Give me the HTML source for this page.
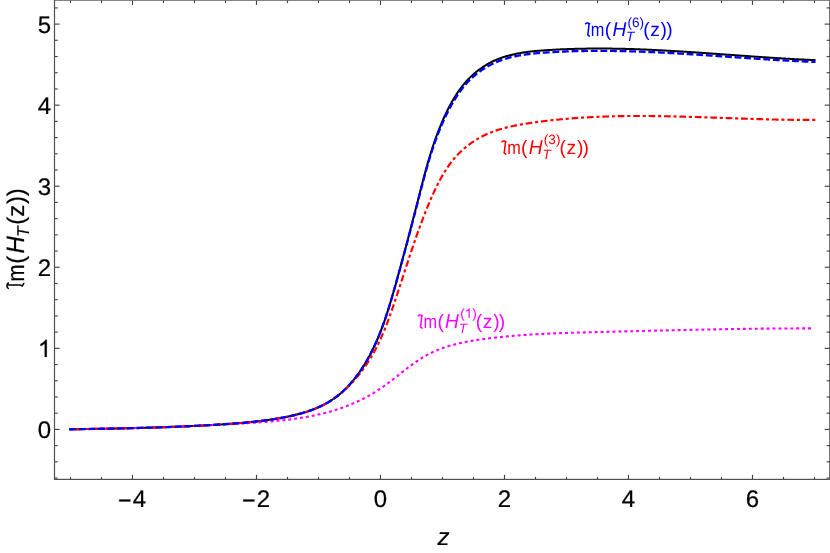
<!DOCTYPE html>
<html><head><meta charset="utf-8"><title>plot</title>
<style>
html,body{margin:0;padding:0;background:#fff;}
body{width:830px;height:553px;overflow:hidden;font-family:"Liberation Sans",sans-serif;}
svg{display:block;will-change:transform;text-rendering:geometricPrecision;}
text{font-family:"Liberation Sans",sans-serif;}
</style></head><body>
<svg width="830" height="553" viewBox="0 0 830 553">
<rect x="0" y="0" width="830" height="553" fill="#ffffff"/>
<g fill="none" stroke-linejoin="round">
<path d="M69.30,429.25 L70.50,429.25 L71.58,429.23 L72.66,429.22 L73.74,429.21 L74.82,429.19 L75.90,429.17 L76.98,429.16 L78.06,429.14 L79.14,429.13 L80.22,429.11 L81.30,429.10 L82.38,429.08 L83.46,429.07 L84.54,429.05 L85.62,429.03 L86.70,429.02 L87.78,429.00 L88.86,428.98 L89.94,428.97 L91.02,428.95 L92.10,428.93 L93.18,428.92 L94.26,428.90 L95.34,428.88 L96.42,428.86 L97.50,428.84 L98.58,428.83 L99.66,428.81 L100.75,428.79 L101.83,428.77 L102.91,428.75 L103.99,428.73 L105.07,428.71 L106.15,428.69 L107.23,428.67 L108.31,428.65 L109.39,428.63 L110.47,428.61 L111.55,428.59 L112.64,428.57 L113.72,428.55 L114.80,428.53 L115.88,428.51 L116.96,428.48 L118.04,428.46 L119.12,428.44 L120.20,428.42 L121.28,428.39 L122.36,428.37 L123.45,428.35 L124.53,428.32 L125.61,428.30 L126.69,428.27 L127.77,428.25 L128.85,428.22 L129.93,428.20 L131.01,428.17 L132.09,428.14 L133.17,428.12 L134.26,428.09 L135.34,428.06 L136.42,428.04 L137.50,428.01 L138.58,427.98 L139.66,427.95 L140.74,427.92 L141.82,427.89 L142.90,427.86 L143.98,427.83 L145.06,427.80 L146.14,427.77 L147.23,427.74 L148.31,427.71 L149.39,427.68 L150.47,427.64 L151.55,427.61 L152.63,427.58 L153.71,427.55 L154.79,427.51 L155.87,427.48 L156.95,427.44 L158.03,427.41 L159.11,427.37 L160.19,427.33 L161.27,427.30 L162.35,427.26 L163.43,427.22 L164.51,427.18 L165.59,427.15 L166.67,427.11 L167.75,427.07 L168.83,427.03 L169.91,426.99 L170.99,426.95 L172.07,426.91 L173.15,426.86 L174.23,426.82 L175.31,426.78 L176.39,426.73 L177.47,426.69 L178.55,426.65 L179.63,426.60 L180.71,426.56 L181.79,426.51 L182.86,426.46 L183.94,426.42 L185.02,426.37 L186.10,426.32 L187.18,426.27 L188.26,426.22 L189.34,426.17 L190.42,426.12 L191.49,426.07 L192.57,426.02 L193.65,425.97 L194.73,425.92 L195.81,425.86 L196.89,425.81 L197.96,425.75 L199.04,425.70 L200.12,425.64 L201.20,425.59 L202.27,425.53 L203.35,425.47 L204.43,425.41 L205.51,425.36 L206.58,425.30 L207.66,425.24 L208.74,425.18 L209.81,425.11 L210.89,425.05 L211.97,424.99 L213.04,424.93 L214.12,424.86 L215.20,424.80 L216.27,424.73 L217.35,424.67 L218.42,424.60 L219.50,424.53 L220.58,424.47 L221.65,424.40 L222.73,424.33 L223.80,424.26 L224.88,424.19 L225.95,424.12 L227.03,424.04 L228.10,423.97 L229.18,423.89 L230.25,423.82 L231.33,423.74 L232.40,423.66 L233.48,423.58 L234.55,423.50 L235.63,423.42 L236.70,423.34 L237.77,423.25 L238.85,423.17 L239.92,423.08 L241.00,422.99 L242.07,422.90 L243.15,422.80 L244.22,422.71 L245.30,422.61 L246.37,422.51 L247.44,422.41 L248.52,422.31 L249.59,422.20 L250.67,422.10 L251.74,421.99 L252.82,421.88 L253.89,421.76 L254.97,421.64 L256.04,421.53 L257.12,421.40 L258.19,421.28 L259.27,421.15 L260.34,421.02 L261.42,420.89 L262.49,420.76 L263.57,420.62 L264.65,420.48 L265.72,420.33 L266.80,420.19 L267.88,420.03 L268.95,419.88 L270.03,419.73 L271.11,419.57 L272.18,419.40 L273.26,419.24 L274.34,419.07 L275.42,418.89 L276.49,418.71 L277.57,418.53 L278.65,418.35 L279.73,418.16 L280.81,417.97 L281.89,417.77 L282.97,417.57 L284.04,417.37 L285.12,417.16 L286.20,416.95 L287.28,416.73 L288.35,416.51 L289.43,416.28 L290.50,416.05 L291.58,415.81 L292.65,415.57 L293.72,415.32 L294.79,415.06 L295.85,414.80 L296.92,414.53 L297.98,414.26 L299.04,413.98 L300.09,413.70 L301.15,413.40 L302.20,413.10 L303.25,412.80 L304.29,412.48 L305.33,412.16 L306.37,411.83 L307.40,411.50 L308.43,411.16 L309.46,410.80 L310.48,410.44 L311.50,410.08 L312.51,409.70 L313.52,409.32 L314.52,408.92 L315.52,408.52 L316.51,408.11 L317.50,407.69 L318.48,407.26 L319.46,406.82 L320.43,406.38 L321.39,405.92 L322.35,405.45 L323.30,404.97 L324.25,404.49 L325.19,403.99 L326.12,403.48 L327.05,402.96 L327.96,402.43 L328.88,401.89 L329.78,401.34 L330.67,400.78 L331.56,400.20 L332.44,399.62 L333.32,399.02 L334.18,398.41 L335.04,397.79 L335.89,397.17 L336.73,396.53 L337.57,395.88 L338.39,395.22 L339.21,394.55 L340.03,393.87 L340.83,393.18 L341.63,392.49 L342.42,391.78 L343.20,391.06 L343.98,390.34 L344.75,389.60 L345.51,388.86 L346.27,388.11 L347.02,387.35 L347.76,386.58 L348.49,385.81 L349.22,385.02 L349.94,384.23 L350.65,383.43 L351.36,382.63 L352.06,381.81 L352.75,380.99 L353.44,380.16 L354.12,379.33 L354.79,378.48 L355.46,377.64 L356.12,376.78 L356.77,375.92 L357.42,375.05 L358.06,374.18 L358.70,373.30 L359.32,372.41 L359.94,371.52 L360.56,370.63 L361.17,369.72 L361.77,368.82 L362.37,367.91 L362.96,366.99 L363.54,366.07 L364.12,365.14 L364.69,364.21 L365.25,363.28 L365.81,362.34 L366.37,361.40 L366.92,360.45 L367.46,359.51 L367.99,358.55 L368.52,357.60 L369.05,356.64 L369.56,355.68 L370.08,354.71 L370.58,353.74 L371.09,352.77 L371.58,351.80 L372.07,350.83 L372.56,349.85 L373.03,348.87 L373.51,347.89 L373.98,346.91 L374.44,345.92 L374.90,344.94 L375.35,343.95 L375.79,342.96 L376.24,341.97 L376.67,340.98 L377.11,339.98 L377.53,338.99 L377.96,337.99 L378.38,336.99 L378.79,335.99 L379.20,334.99 L379.60,333.99 L380.00,332.98 L380.40,331.98 L380.79,330.97 L381.18,329.96 L381.57,328.95 L381.95,327.94 L382.33,326.93 L382.70,325.92 L383.07,324.90 L383.43,323.89 L383.80,322.87 L384.16,321.85 L384.51,320.83 L384.87,319.81 L385.22,318.79 L385.56,317.77 L385.91,316.75 L386.25,315.72 L386.59,314.70 L386.92,313.67 L387.26,312.65 L387.59,311.62 L387.91,310.59 L388.24,309.56 L388.56,308.54 L388.89,307.51 L389.20,306.47 L389.52,305.44 L389.84,304.41 L390.15,303.38 L390.46,302.35 L390.77,301.31 L391.08,300.28 L391.39,299.25 L391.69,298.21 L392.00,297.18 L392.30,296.14 L392.60,295.10 L392.90,294.07 L393.20,293.03 L393.50,291.99 L393.80,290.96 L394.09,289.92 L394.39,288.88 L394.68,287.85 L394.98,286.81 L395.27,285.76 L395.57,284.71 L395.86,283.66 L396.15,282.61 L396.45,281.56 L396.74,280.51 L397.03,279.46 L397.32,278.41 L397.61,277.36 L397.90,276.30 L398.19,275.25 L398.48,274.20 L398.77,273.15 L399.06,272.10 L399.35,271.05 L399.64,270.00 L399.92,268.95 L400.21,267.89 L400.50,266.84 L400.78,265.79 L401.07,264.74 L401.35,263.69 L401.64,262.64 L401.92,261.58 L402.21,260.53 L402.49,259.48 L402.77,258.43 L403.06,257.37 L403.34,256.32 L403.62,255.27 L403.90,254.21 L404.19,253.16 L404.47,252.11 L404.75,251.06 L405.03,250.00 L405.31,248.95 L405.59,247.90 L405.87,246.84 L406.15,245.79 L406.43,244.73 L406.71,243.68 L406.98,242.63 L407.26,241.57 L407.54,240.52 L407.82,239.46 L408.10,238.41 L408.37,237.35 L408.65,236.30 L408.93,235.24 L409.20,234.19 L409.48,233.13 L409.75,232.08 L410.03,231.02 L410.30,229.97 L410.58,228.91 L410.85,227.85 L411.13,226.80 L411.40,225.74 L411.68,224.69 L411.95,223.63 L412.22,222.57 L412.50,221.52 L412.77,220.46 L413.04,219.40 L413.32,218.35 L413.59,217.29 L413.86,216.23 L414.13,215.17 L414.41,214.12 L414.68,213.06 L414.95,212.00 L415.22,210.94 L415.49,209.88 L415.76,208.83 L416.03,207.77 L416.31,206.71 L416.58,205.65 L416.85,204.59 L417.12,203.53 L417.39,202.47 L417.66,201.41 L417.93,200.36 L418.20,199.30 L418.47,198.24 L418.74,197.18 L419.01,196.12 L419.28,195.06 L419.55,194.00 L419.82,192.94 L420.09,191.88 L420.36,190.81 L420.63,189.75 L420.90,188.69 L421.17,187.63 L421.45,186.57 L421.72,185.51 L421.99,184.46 L422.27,183.40 L422.54,182.34 L422.82,181.28 L423.10,180.22 L423.38,179.16 L423.66,178.10 L423.94,177.04 L424.22,175.99 L424.50,174.93 L424.79,173.87 L425.07,172.81 L425.36,171.76 L425.65,170.70 L425.94,169.65 L426.23,168.59 L426.52,167.54 L426.82,166.48 L427.12,165.43 L427.41,164.38 L427.72,163.33 L428.02,162.27 L428.32,161.22 L428.63,160.17 L428.94,159.12 L429.25,158.07 L429.57,157.03 L429.88,155.98 L430.20,154.93 L430.52,153.89 L430.85,152.84 L431.17,151.80 L431.50,150.76 L431.83,149.71 L432.17,148.67 L432.51,147.63 L432.85,146.59 L433.19,145.55 L433.54,144.52 L433.89,143.48 L434.24,142.44 L434.60,141.41 L434.96,140.38 L435.32,139.34 L435.69,138.31 L436.06,137.28 L436.43,136.25 L436.81,135.23 L437.19,134.20 L437.57,133.18 L437.96,132.15 L438.35,131.13 L438.75,130.11 L439.15,129.09 L439.55,128.07 L439.96,127.05 L440.37,126.04 L440.79,125.02 L441.21,124.01 L441.64,123.00 L442.07,121.99 L442.50,120.98 L442.94,119.98 L443.39,118.97 L443.83,117.97 L444.29,116.97 L444.75,115.97 L445.21,114.97 L445.68,113.97 L446.15,112.98 L446.63,111.98 L447.11,110.99 L447.60,110.00 L448.09,109.01 L448.59,108.03 L449.10,107.04 L449.61,106.06 L450.12,105.08 L450.64,104.13 L451.17,103.17 L451.70,102.22 L452.24,101.28 L452.79,100.33 L453.34,99.39 L453.90,98.46 L454.46,97.53 L455.04,96.60 L455.61,95.68 L456.20,94.76 L456.79,93.85 L457.39,92.94 L458.00,92.04 L458.62,91.15 L459.24,90.26 L459.87,89.38 L460.51,88.50 L461.16,87.63 L461.82,86.77 L462.48,85.92 L463.16,85.07 L463.84,84.24 L464.53,83.41 L465.23,82.58 L465.94,81.77 L466.66,80.97 L467.39,80.17 L468.13,79.39 L468.87,78.61 L469.63,77.85 L470.40,77.09 L471.17,76.35 L471.96,75.61 L472.75,74.88 L473.55,74.17 L474.36,73.46 L475.18,72.77 L476.01,72.08 L476.84,71.41 L477.69,70.74 L478.54,70.09 L479.40,69.45 L480.26,68.82 L481.13,68.20 L482.02,67.59 L482.90,67.00 L483.80,66.41 L484.70,65.84 L485.61,65.28 L486.52,64.73 L487.44,64.19 L488.37,63.67 L489.31,63.15 L490.25,62.65 L491.19,62.16 L492.14,61.69 L493.10,61.22 L494.06,60.77 L495.03,60.34 L496.00,59.91 L496.98,59.50 L497.96,59.10 L498.95,58.71 L499.94,58.33 L500.94,57.97 L501.94,57.61 L502.94,57.27 L503.95,56.94 L504.97,56.62 L505.99,56.31 L507.01,56.01 L508.04,55.72 L509.07,55.44 L510.10,55.17 L511.14,54.91 L512.18,54.66 L513.22,54.41 L514.27,54.18 L515.32,53.95 L516.37,53.74 L517.43,53.53 L518.49,53.33 L519.55,53.13 L520.61,52.95 L521.68,52.77 L522.75,52.60 L523.82,52.43 L524.89,52.27 L525.97,52.12 L527.05,51.98 L528.12,51.84 L529.21,51.70 L530.29,51.57 L531.37,51.45 L532.46,51.33 L533.54,51.22 L534.63,51.11 L535.72,51.00 L536.81,50.90 L537.90,50.81 L538.99,50.72 L540.09,50.63 L541.18,50.54 L542.27,50.46 L543.36,50.38 L544.46,50.30 L545.55,50.23 L546.65,50.16 L547.74,50.08 L548.83,50.02 L549.93,49.95 L551.02,49.88 L552.11,49.82 L553.20,49.76 L554.30,49.70 L555.39,49.64 L556.48,49.58 L557.57,49.53 L558.66,49.48 L559.75,49.42 L560.84,49.37 L561.93,49.32 L563.02,49.28 L564.11,49.23 L565.20,49.19 L566.29,49.14 L567.38,49.10 L568.47,49.06 L569.56,49.03 L570.65,48.99 L571.73,48.95 L572.82,48.92 L573.91,48.89 L575.00,48.86 L576.08,48.83 L577.17,48.80 L578.26,48.78 L579.34,48.75 L580.43,48.73 L581.52,48.71 L582.60,48.68 L583.69,48.67 L584.77,48.65 L585.86,48.63 L586.94,48.62 L588.03,48.60 L589.11,48.59 L590.20,48.58 L591.28,48.57 L592.37,48.56 L593.45,48.55 L594.53,48.55 L595.62,48.54 L596.70,48.54 L597.78,48.54 L598.87,48.54 L599.95,48.54 L601.03,48.54 L602.11,48.54 L603.20,48.54 L604.28,48.55 L605.36,48.56 L606.44,48.56 L607.52,48.57 L608.60,48.58 L609.69,48.59 L610.77,48.60 L611.85,48.62 L612.93,48.63 L614.01,48.65 L615.09,48.66 L616.17,48.68 L617.25,48.70 L618.33,48.72 L619.41,48.74 L620.49,48.76 L621.57,48.78 L622.65,48.81 L623.73,48.83 L624.81,48.86 L625.88,48.89 L626.96,48.91 L628.04,48.94 L629.12,48.97 L630.20,49.01 L631.28,49.04 L632.36,49.08 L633.43,49.11 L634.51,49.15 L635.59,49.19 L636.67,49.23 L637.75,49.27 L638.82,49.31 L639.90,49.35 L640.98,49.39 L642.06,49.44 L643.13,49.48 L644.21,49.53 L645.29,49.57 L646.36,49.62 L647.44,49.67 L648.52,49.71 L649.59,49.76 L650.67,49.81 L651.75,49.86 L652.82,49.91 L653.90,49.97 L654.98,50.02 L656.05,50.07 L657.13,50.13 L658.20,50.18 L659.28,50.24 L660.35,50.29 L661.43,50.35 L662.51,50.41 L663.58,50.46 L664.66,50.52 L665.73,50.58 L666.81,50.64 L667.88,50.70 L668.96,50.76 L670.03,50.82 L671.11,50.89 L672.19,50.95 L673.26,51.01 L674.34,51.07 L675.41,51.14 L676.49,51.20 L677.56,51.27 L678.64,51.33 L679.71,51.40 L680.79,51.47 L681.86,51.53 L682.94,51.60 L684.01,51.67 L685.08,51.74 L686.16,51.81 L687.23,51.88 L688.31,51.95 L689.38,52.02 L690.46,52.09 L691.53,52.16 L692.61,52.23 L693.68,52.30 L694.76,52.37 L695.83,52.44 L696.91,52.52 L697.98,52.59 L699.06,52.66 L700.13,52.74 L701.21,52.81 L702.28,52.88 L703.36,52.96 L704.43,53.03 L705.50,53.11 L706.58,53.18 L707.65,53.26 L708.73,53.33 L709.80,53.41 L710.88,53.48 L711.95,53.56 L713.03,53.64 L714.10,53.71 L715.18,53.79 L716.25,53.87 L717.33,53.94 L718.40,54.02 L719.48,54.10 L720.55,54.17 L721.63,54.25 L722.71,54.33 L723.78,54.40 L724.86,54.48 L725.93,54.56 L727.01,54.64 L728.08,54.71 L729.16,54.79 L730.23,54.87 L731.31,54.95 L732.39,55.02 L733.46,55.10 L734.54,55.18 L735.61,55.26 L736.69,55.33 L737.77,55.41 L738.84,55.49 L739.92,55.56 L741.00,55.64 L742.07,55.72 L743.15,55.79 L744.23,55.87 L745.30,55.95 L746.38,56.02 L747.46,56.10 L748.53,56.18 L749.61,56.25 L750.69,56.33 L751.77,56.40 L752.84,56.48 L753.92,56.55 L755.00,56.63 L756.08,56.70 L757.15,56.78 L758.23,56.85 L759.31,56.93 L760.39,57.00 L761.47,57.07 L762.55,57.15 L763.62,57.22 L764.70,57.29 L765.78,57.36 L766.86,57.43 L767.94,57.51 L769.02,57.58 L770.10,57.65 L771.18,57.72 L772.26,57.79 L773.34,57.86 L774.42,57.93 L775.50,57.99 L776.58,58.06 L777.66,58.13 L778.74,58.20 L779.82,58.26 L780.90,58.33 L781.98,58.40 L783.06,58.46 L784.15,58.53 L785.23,58.59 L786.31,58.65 L787.39,58.72 L788.47,58.78 L789.56,58.84 L790.64,58.91 L791.72,58.97 L792.80,59.03 L793.89,59.09 L794.97,59.15 L796.05,59.20 L797.14,59.26 L798.22,59.32 L799.30,59.38 L800.39,59.43 L801.47,59.49 L802.56,59.54 L803.64,59.60 L804.73,59.65 L805.81,59.70 L806.90,59.76 L807.98,59.81 L809.07,59.86 L810.15,59.91 L811.24,59.96 L812.33,60.01 L813.41,60.05 L814.50,60.10 L815.50,60.10" stroke="#000000" stroke-width="2.0"/>
<path d="M69.30,429.25 L70.50,429.25 L71.36,429.24 L72.21,429.23 L73.07,429.21 L73.92,429.20 L74.78,429.19 L75.64,429.18 L76.49,429.17 L77.35,429.15 L78.20,429.14 L79.06,429.13 L79.91,429.12 L80.76,429.11 L81.62,429.09 L82.47,429.08 L83.33,429.07 L84.18,429.05 L85.03,429.04 L85.89,429.03 L86.74,429.02 L87.59,429.00 L88.45,428.99 L89.30,428.98 L90.15,428.96 L91.01,428.95 L91.86,428.94 L92.71,428.92 L93.56,428.91 L94.41,428.90 L95.27,428.88 L96.12,428.87 L96.97,428.85 L97.82,428.84 L98.67,428.83 L99.52,428.81 L100.37,428.80 L101.22,428.78 L102.07,428.77 L102.93,428.75 L103.78,428.74 L104.63,428.72 L105.48,428.71 L106.33,428.69 L107.18,428.67 L108.03,428.66 L108.88,428.64 L109.73,428.63 L110.58,428.61 L111.42,428.59 L112.27,428.58 L113.12,428.56 L113.97,428.54 L114.82,428.53 L115.67,428.51 L116.52,428.49 L117.37,428.48 L118.22,428.46 L119.06,428.44 L119.91,428.42 L120.76,428.40 L121.61,428.39 L122.46,428.37 L123.31,428.35 L124.15,428.33 L125.00,428.31 L125.85,428.29 L126.70,428.27 L127.55,428.25 L128.39,428.23 L129.24,428.21 L130.09,428.19 L130.94,428.17 L131.78,428.15 L132.63,428.13 L133.48,428.11 L134.32,428.09 L135.17,428.07 L136.02,428.05 L136.87,428.03 L137.71,428.00 L138.56,427.98 L139.41,427.96 L140.25,427.94 L141.10,427.91 L141.95,427.89 L142.79,427.87 L143.64,427.84 L144.49,427.82 L145.33,427.80 L146.18,427.77 L147.03,427.75 L147.87,427.72 L148.72,427.70 L149.57,427.67 L150.41,427.65 L151.26,427.62 L152.10,427.59 L152.95,427.57 L153.80,427.54 L154.64,427.52 L155.49,427.49 L156.34,427.46 L157.18,427.43 L158.03,427.41 L158.87,427.38 L159.72,427.35 L160.57,427.32 L161.41,427.29 L162.26,427.26 L163.11,427.23 L163.95,427.20 L164.80,427.17 L165.64,427.14 L166.49,427.11 L167.34,427.08 L168.18,427.05 L169.03,427.02 L169.88,426.99 L170.72,426.96 L171.57,426.92 L172.41,426.89 L173.26,426.86 L174.11,426.83 L174.95,426.79 L175.80,426.76 L176.65,426.72 L177.49,426.69 L178.34,426.65 L179.19,426.62 L180.03,426.58 L180.88,426.55 L181.73,426.51 L182.57,426.48 L183.42,426.44 L184.27,426.40 L185.11,426.36 L185.96,426.33 L186.81,426.29 L187.65,426.25 L188.50,426.21 L189.35,426.17 L190.19,426.13 L191.04,426.09 L191.89,426.05 L192.74,426.01 L193.58,425.97 L194.43,425.93 L195.28,425.89 L196.13,425.84 L196.97,425.80 L197.82,425.76 L198.67,425.72 L199.52,425.67 L200.37,425.63 L201.21,425.59 L202.06,425.54 L202.91,425.50 L203.76,425.46 L204.61,425.41 L205.46,425.37 L206.30,425.32 L207.15,425.28 L208.00,425.24 L208.85,425.19 L209.70,425.15 L210.55,425.10 L211.40,425.06 L212.25,425.01 L213.10,424.97 L213.95,424.93 L214.80,424.88 L215.64,424.84 L216.49,424.79 L217.34,424.75 L218.19,424.70 L219.04,424.66 L219.90,424.62 L220.75,424.57 L221.60,424.53 L222.45,424.49 L223.30,424.44 L224.15,424.40 L225.00,424.35 L225.85,424.31 L226.70,424.27 L227.55,424.22 L228.41,424.18 L229.26,424.14 L230.11,424.09 L230.96,424.05 L231.81,424.00 L232.67,423.96 L233.52,423.92 L234.37,423.87 L235.22,423.83 L236.08,423.78 L236.93,423.74 L237.78,423.69 L238.64,423.64 L239.49,423.59 L240.34,423.55 L241.20,423.50 L242.05,423.45 L242.91,423.40 L243.76,423.35 L244.61,423.30 L245.47,423.25 L246.32,423.20 L247.18,423.15 L248.03,423.10 L248.89,423.04 L249.74,422.99 L250.60,422.94 L251.45,422.89 L252.31,422.83 L253.16,422.78 L254.02,422.72 L254.87,422.67 L255.73,422.61 L256.58,422.55 L257.44,422.50 L258.29,422.44 L259.15,422.38 L260.00,422.32 L260.86,422.26 L261.71,422.20 L262.57,422.13 L263.42,422.07 L264.27,422.00 L265.13,421.94 L265.98,421.87 L266.84,421.80 L267.69,421.74 L268.54,421.67 L269.40,421.60 L270.25,421.52 L271.10,421.45 L271.95,421.38 L272.81,421.30 L273.66,421.22 L274.51,421.14 L275.36,421.07 L276.21,420.98 L277.07,420.90 L277.92,420.82 L278.77,420.73 L279.62,420.65 L280.47,420.56 L281.32,420.47 L282.17,420.38 L283.01,420.28 L283.86,420.19 L284.71,420.09 L285.56,420.00 L286.41,419.90 L287.25,419.80 L288.10,419.69 L288.95,419.59 L289.79,419.48 L290.64,419.37 L291.48,419.26 L292.33,419.15 L293.17,419.04 L294.01,418.92 L294.86,418.80 L295.70,418.68 L296.54,418.56 L297.38,418.44 L298.22,418.31 L299.06,418.18 L299.90,418.05 L300.74,417.92 L301.58,417.79 L302.42,417.65 L303.25,417.51 L304.09,417.37 L304.93,417.22 L305.76,417.08 L306.60,416.93 L307.43,416.78 L308.26,416.62 L309.10,416.47 L309.93,416.31 L310.76,416.15 L311.59,415.99 L312.42,415.82 L313.25,415.65 L314.08,415.48 L314.91,415.31 L315.73,415.13 L316.56,414.95 L317.38,414.77 L318.21,414.58 L319.03,414.40 L319.86,414.20 L320.68,414.01 L321.50,413.82 L322.32,413.62 L323.14,413.41 L323.96,413.21 L324.78,413.00 L325.59,412.79 L326.41,412.58 L327.22,412.36 L328.04,412.14 L328.85,411.91 L329.66,411.69 L330.47,411.46 L331.28,411.22 L332.09,410.99 L332.90,410.75 L333.71,410.50 L334.52,410.26 L335.32,410.01 L336.13,409.76 L336.93,409.50 L337.73,409.24 L338.53,408.98 L339.33,408.71 L340.13,408.44 L340.93,408.16 L341.73,407.89 L342.52,407.61 L343.32,407.32 L344.11,407.03 L344.90,406.74 L345.69,406.45 L346.48,406.15 L347.27,405.84 L348.06,405.54 L348.84,405.23 L349.62,404.91 L350.41,404.60 L351.19,404.28 L351.97,403.95 L352.75,403.62 L353.52,403.29 L354.30,402.95 L355.07,402.61 L355.84,402.27 L356.61,401.92 L357.38,401.57 L358.15,401.22 L358.91,400.86 L359.68,400.50 L360.44,400.13 L361.20,399.76 L361.96,399.38 L362.71,399.00 L363.47,398.62 L364.22,398.24 L364.97,397.85 L365.72,397.45 L366.47,397.05 L367.21,396.65 L367.96,396.24 L368.70,395.83 L369.44,395.42 L370.18,395.00 L370.91,394.58 L371.65,394.15 L372.38,393.72 L373.11,393.28 L373.83,392.84 L374.56,392.40 L375.28,391.95 L376.00,391.50 L376.72,391.04 L377.44,390.58 L378.15,390.12 L378.86,389.65 L379.57,389.17 L380.28,388.70 L380.98,388.21 L381.69,387.73 L382.39,387.24 L383.09,386.75 L383.78,386.25 L384.48,385.75 L385.17,385.25 L385.87,384.74 L386.56,384.24 L387.25,383.73 L387.93,383.21 L388.62,382.70 L389.31,382.18 L389.99,381.66 L390.67,381.14 L391.36,380.62 L392.04,380.09 L392.72,379.57 L393.40,379.04 L394.08,378.51 L394.75,377.98 L395.43,377.45 L396.11,376.92 L396.79,376.39 L397.46,375.86 L398.14,375.33 L398.82,374.80 L399.49,374.27 L400.17,373.74 L400.84,373.21 L401.52,372.68 L402.20,372.15 L402.87,371.62 L403.55,371.09 L404.23,370.57 L404.91,370.04 L405.59,369.52 L406.26,369.00 L406.94,368.48 L407.63,367.96 L408.31,367.45 L408.99,366.93 L409.67,366.42 L410.36,365.91 L411.05,365.41 L411.73,364.91 L412.42,364.41 L413.11,363.91 L413.80,363.42 L414.50,362.93 L415.19,362.44 L415.89,361.96 L416.59,361.48 L417.29,361.01 L417.99,360.54 L418.70,360.07 L419.40,359.61 L420.11,359.16 L420.82,358.71 L421.54,358.26 L422.25,357.82 L422.97,357.38 L423.69,356.95 L424.42,356.53 L425.14,356.11 L425.87,355.70 L426.60,355.29 L427.34,354.89 L428.08,354.50 L428.82,354.11 L429.56,353.73 L430.31,353.35 L431.06,352.98 L431.81,352.62 L432.57,352.26 L433.32,351.91 L434.08,351.57 L434.85,351.23 L435.61,350.89 L436.38,350.57 L437.15,350.25 L437.93,349.93 L438.70,349.62 L439.48,349.31 L440.27,349.01 L441.05,348.72 L441.83,348.43 L442.62,348.14 L443.41,347.86 L444.21,347.59 L445.00,347.32 L445.80,347.06 L446.60,346.80 L447.40,346.54 L448.20,346.29 L449.01,346.05 L449.81,345.81 L450.62,345.57 L451.43,345.34 L452.24,345.11 L453.06,344.89 L453.87,344.67 L454.69,344.45 L455.51,344.24 L456.33,344.03 L457.15,343.83 L457.98,343.63 L458.80,343.43 L459.63,343.24 L460.46,343.05 L461.29,342.87 L462.12,342.69 L462.95,342.51 L463.78,342.34 L464.62,342.16 L465.45,342.00 L466.29,341.83 L467.13,341.67 L467.96,341.51 L468.80,341.36 L469.64,341.20 L470.48,341.05 L471.33,340.91 L472.17,340.76 L473.01,340.62 L473.86,340.48 L474.70,340.34 L475.55,340.21 L476.39,340.08 L477.24,339.95 L478.09,339.82 L478.93,339.69 L479.78,339.57 L480.63,339.45 L481.48,339.33 L482.33,339.21 L483.18,339.10 L484.03,338.98 L484.88,338.87 L485.73,338.76 L486.58,338.65 L487.43,338.54 L488.28,338.44 L489.13,338.33 L489.98,338.23 L490.83,338.12 L491.68,338.02 L492.53,337.92 L493.38,337.82 L494.23,337.73 L495.08,337.63 L495.93,337.54 L496.77,337.44 L497.62,337.35 L498.47,337.26 L499.32,337.17 L500.17,337.08 L501.02,336.99 L501.87,336.90 L502.72,336.82 L503.57,336.73 L504.42,336.65 L505.27,336.57 L506.12,336.49 L506.97,336.41 L507.82,336.33 L508.67,336.25 L509.52,336.17 L510.36,336.10 L511.21,336.02 L512.06,335.95 L512.91,335.88 L513.76,335.80 L514.61,335.73 L515.46,335.66 L516.31,335.59 L517.16,335.53 L518.01,335.46 L518.86,335.39 L519.70,335.33 L520.55,335.27 L521.40,335.20 L522.25,335.14 L523.10,335.08 L523.95,335.02 L524.80,334.96 L525.65,334.90 L526.49,334.84 L527.34,334.79 L528.19,334.73 L529.04,334.68 L529.89,334.62 L530.74,334.57 L531.59,334.52 L532.44,334.46 L533.28,334.41 L534.13,334.36 L534.98,334.31 L535.83,334.26 L536.68,334.22 L537.53,334.17 L538.38,334.12 L539.22,334.08 L540.07,334.03 L540.92,333.99 L541.77,333.94 L542.62,333.90 L543.47,333.86 L544.32,333.82 L545.16,333.77 L546.01,333.73 L546.86,333.69 L547.71,333.66 L548.56,333.62 L549.41,333.58 L550.25,333.54 L551.10,333.50 L551.95,333.47 L552.80,333.43 L553.65,333.40 L554.50,333.36 L555.35,333.33 L556.19,333.29 L557.04,333.26 L557.89,333.23 L558.74,333.20 L559.59,333.16 L560.44,333.13 L561.28,333.10 L562.13,333.07 L562.98,333.04 L563.83,333.01 L564.68,332.98 L565.53,332.95 L566.38,332.93 L567.22,332.90 L568.07,332.87 L568.92,332.84 L569.77,332.82 L570.62,332.79 L571.47,332.76 L572.31,332.74 L573.16,332.71 L574.01,332.69 L574.86,332.66 L575.71,332.64 L576.56,332.61 L577.41,332.59 L578.25,332.56 L579.10,332.54 L579.95,332.52 L580.80,332.49 L581.65,332.47 L582.50,332.45 L583.35,332.43 L584.19,332.40 L585.04,332.38 L585.89,332.36 L586.74,332.34 L587.59,332.32 L588.44,332.29 L589.29,332.27 L590.13,332.25 L590.98,332.23 L591.83,332.21 L592.68,332.19 L593.53,332.17 L594.38,332.14 L595.23,332.12 L596.08,332.10 L596.93,332.08 L597.77,332.06 L598.62,332.04 L599.47,332.02 L600.32,332.00 L601.17,331.98 L602.02,331.96 L602.87,331.94 L603.72,331.91 L604.57,331.89 L605.42,331.87 L606.26,331.85 L607.11,331.83 L607.96,331.81 L608.81,331.79 L609.66,331.77 L610.51,331.75 L611.36,331.72 L612.21,331.70 L613.06,331.68 L613.91,331.66 L614.76,331.64 L615.61,331.62 L616.45,331.60 L617.30,331.58 L618.15,331.56 L619.00,331.53 L619.85,331.51 L620.70,331.49 L621.55,331.47 L622.40,331.45 L623.25,331.43 L624.10,331.41 L624.95,331.39 L625.80,331.37 L626.65,331.34 L627.50,331.32 L628.35,331.30 L629.20,331.28 L630.05,331.26 L630.90,331.24 L631.75,331.22 L632.60,331.20 L633.44,331.18 L634.29,331.16 L635.14,331.13 L635.99,331.11 L636.84,331.09 L637.69,331.07 L638.54,331.05 L639.39,331.03 L640.24,331.01 L641.09,330.99 L641.94,330.97 L642.79,330.95 L643.64,330.93 L644.49,330.91 L645.34,330.88 L646.19,330.86 L647.04,330.84 L647.89,330.82 L648.74,330.80 L649.59,330.78 L650.44,330.76 L651.29,330.74 L652.14,330.72 L652.99,330.70 L653.84,330.68 L654.69,330.66 L655.54,330.64 L656.39,330.62 L657.24,330.60 L658.09,330.58 L658.94,330.56 L659.79,330.54 L660.64,330.52 L661.49,330.50 L662.34,330.48 L663.19,330.46 L664.04,330.44 L664.89,330.42 L665.74,330.40 L666.59,330.38 L667.44,330.36 L668.29,330.34 L669.14,330.32 L669.99,330.30 L670.84,330.28 L671.69,330.26 L672.54,330.24 L673.39,330.22 L674.24,330.20 L675.09,330.18 L675.94,330.16 L676.79,330.14 L677.64,330.13 L678.49,330.11 L679.34,330.09 L680.19,330.07 L681.04,330.05 L681.89,330.03 L682.74,330.01 L683.59,329.99 L684.44,329.98 L685.30,329.96 L686.15,329.94 L687.00,329.92 L687.85,329.90 L688.70,329.88 L689.55,329.87 L690.40,329.85 L691.25,329.83 L692.10,329.81 L692.95,329.79 L693.80,329.78 L694.65,329.76 L695.50,329.74 L696.35,329.72 L697.20,329.70 L698.05,329.69 L698.90,329.67 L699.75,329.65 L700.60,329.64 L701.45,329.62 L702.30,329.60 L703.15,329.58 L704.00,329.57 L704.85,329.55 L705.70,329.53 L706.55,329.52 L707.40,329.50 L708.25,329.48 L709.10,329.47 L709.95,329.45 L710.80,329.44 L711.65,329.42 L712.51,329.40 L713.36,329.39 L714.21,329.37 L715.06,329.36 L715.91,329.34 L716.76,329.32 L717.61,329.31 L718.46,329.29 L719.31,329.28 L720.16,329.26 L721.01,329.25 L721.86,329.23 L722.71,329.22 L723.56,329.20 L724.41,329.19 L725.26,329.18 L726.11,329.16 L726.96,329.15 L727.81,329.13 L728.66,329.12 L729.51,329.10 L730.36,329.09 L731.21,329.08 L732.06,329.06 L732.91,329.05 L733.76,329.04 L734.61,329.02 L735.46,329.01 L736.31,329.00 L737.16,328.98 L738.01,328.97 L738.86,328.96 L739.72,328.95 L740.57,328.93 L741.42,328.92 L742.27,328.91 L743.12,328.90 L743.97,328.88 L744.82,328.87 L745.67,328.86 L746.52,328.85 L747.37,328.84 L748.22,328.83 L749.07,328.81 L749.92,328.80 L750.77,328.79 L751.62,328.78 L752.47,328.77 L753.32,328.76 L754.17,328.75 L755.02,328.74 L755.87,328.73 L756.72,328.72 L757.57,328.71 L758.42,328.70 L759.27,328.69 L760.12,328.68 L760.97,328.67 L761.82,328.66 L762.67,328.65 L763.52,328.64 L764.37,328.64 L765.22,328.63 L766.07,328.62 L766.92,328.61 L767.77,328.60 L768.62,328.59 L769.47,328.59 L770.32,328.58 L771.17,328.57 L772.02,328.56 L772.87,328.56 L773.72,328.55 L774.57,328.54 L775.42,328.53 L776.27,328.53 L777.12,328.52 L777.97,328.51 L778.82,328.51 L779.67,328.50 L780.52,328.50 L781.37,328.49 L782.22,328.49 L783.07,328.48 L783.92,328.47 L784.77,328.47 L785.62,328.46 L786.47,328.46 L787.32,328.46 L788.17,328.45 L789.02,328.45 L789.87,328.44 L790.72,328.44 L791.57,328.43 L792.42,328.43 L793.26,328.43 L794.11,328.42 L794.96,328.42 L795.81,328.42 L796.66,328.42 L797.51,328.41 L798.36,328.41 L799.21,328.41 L800.06,328.41 L800.91,328.40 L801.76,328.40 L802.61,328.40 L803.46,328.40 L804.31,328.40 L805.16,328.40 L806.01,328.40 L806.86,328.40 L807.71,328.40 L808.56,328.40 L809.40,328.40 L810.25,328.40 L811.10,328.40 L811.95,328.40" stroke="#ff00ff" stroke-width="2.1" stroke-dasharray="3.0 2.93" stroke-dashoffset="0.17"/>
<path d="M69.30,429.25 L70.50,429.25 L71.51,429.24 L72.52,429.22 L73.52,429.21 L74.53,429.19 L75.54,429.18 L76.55,429.17 L77.56,429.15 L78.57,429.14 L79.58,429.12 L80.59,429.11 L81.60,429.09 L82.61,429.08 L83.62,429.06 L84.63,429.05 L85.64,429.03 L86.65,429.02 L87.66,429.00 L88.67,428.99 L89.68,428.97 L90.69,428.96 L91.71,428.94 L92.72,428.92 L93.73,428.91 L94.74,428.89 L95.76,428.87 L96.77,428.86 L97.78,428.84 L98.80,428.82 L99.81,428.81 L100.82,428.79 L101.84,428.77 L102.85,428.75 L103.86,428.73 L104.88,428.72 L105.89,428.70 L106.91,428.68 L107.92,428.66 L108.93,428.64 L109.95,428.62 L110.96,428.60 L111.98,428.58 L112.99,428.56 L114.01,428.54 L115.02,428.52 L116.04,428.50 L117.05,428.48 L118.07,428.46 L119.08,428.44 L120.10,428.42 L121.12,428.40 L122.13,428.37 L123.15,428.35 L124.16,428.33 L125.18,428.31 L126.19,428.28 L127.21,428.26 L128.23,428.24 L129.24,428.21 L130.26,428.19 L131.27,428.16 L132.29,428.14 L133.31,428.12 L134.32,428.09 L135.34,428.06 L136.35,428.04 L137.37,428.01 L138.39,427.99 L139.40,427.96 L140.42,427.93 L141.43,427.90 L142.45,427.88 L143.46,427.85 L144.48,427.82 L145.50,427.79 L146.51,427.76 L147.53,427.73 L148.54,427.70 L149.56,427.67 L150.57,427.64 L151.59,427.61 L152.61,427.58 L153.62,427.55 L154.64,427.52 L155.65,427.48 L156.67,427.45 L157.68,427.42 L158.70,427.38 L159.71,427.35 L160.73,427.32 L161.74,427.28 L162.76,427.25 L163.77,427.21 L164.78,427.17 L165.80,427.14 L166.81,427.10 L167.83,427.06 L168.84,427.03 L169.85,426.99 L170.87,426.95 L171.88,426.91 L172.89,426.87 L173.91,426.83 L174.92,426.79 L175.93,426.75 L176.95,426.71 L177.96,426.67 L178.97,426.63 L179.98,426.59 L180.99,426.54 L182.01,426.50 L183.02,426.46 L184.03,426.41 L185.04,426.37 L186.05,426.32 L187.06,426.28 L188.07,426.23 L189.08,426.18 L190.09,426.14 L191.10,426.09 L192.11,426.04 L193.12,425.99 L194.13,425.94 L195.14,425.90 L196.15,425.85 L197.15,425.79 L198.16,425.74 L199.17,425.69 L200.18,425.64 L201.19,425.59 L202.19,425.53 L203.20,425.48 L204.21,425.43 L205.21,425.37 L206.22,425.32 L207.22,425.26 L208.23,425.20 L209.23,425.15 L210.24,425.09 L211.24,425.03 L212.25,424.97 L213.25,424.91 L214.26,424.85 L215.26,424.79 L216.26,424.73 L217.27,424.67 L218.27,424.61 L219.28,424.55 L220.28,424.48 L221.28,424.42 L222.29,424.36 L223.29,424.29 L224.29,424.23 L225.30,424.16 L226.30,424.09 L227.31,424.02 L228.31,423.95 L229.31,423.88 L230.32,423.81 L231.32,423.74 L232.33,423.67 L233.33,423.59 L234.34,423.52 L235.34,423.44 L236.35,423.37 L237.35,423.29 L238.36,423.21 L239.36,423.12 L240.37,423.04 L241.38,422.96 L242.38,422.87 L243.39,422.78 L244.40,422.69 L245.41,422.60 L246.42,422.51 L247.43,422.41 L248.43,422.32 L249.44,422.22 L250.45,422.12 L251.46,422.02 L252.48,421.91 L253.49,421.80 L254.50,421.69 L255.51,421.58 L256.53,421.47 L257.54,421.35 L258.55,421.24 L259.57,421.12 L260.58,420.99 L261.60,420.87 L262.62,420.74 L263.64,420.61 L264.65,420.48 L265.67,420.34 L266.69,420.20 L267.71,420.06 L268.73,419.91 L269.76,419.76 L270.78,419.61 L271.80,419.46 L272.82,419.30 L273.85,419.14 L274.87,418.98 L275.89,418.81 L276.91,418.64 L277.94,418.47 L278.96,418.30 L279.98,418.12 L281.00,417.94 L282.02,417.75 L283.04,417.56 L284.05,417.37 L285.07,417.17 L286.08,416.97 L287.10,416.77 L288.11,416.56 L289.12,416.35 L290.13,416.13 L291.13,415.91 L292.14,415.68 L293.14,415.45 L294.14,415.22 L295.14,414.98 L296.13,414.73 L297.12,414.48 L298.11,414.22 L299.10,413.96 L300.09,413.70 L301.07,413.43 L302.04,413.15 L303.02,412.87 L303.99,412.59 L304.96,412.30 L305.92,412.00 L306.88,411.70 L307.84,411.40 L308.79,411.09 L309.74,410.77 L310.68,410.45 L311.62,410.12 L312.56,409.78 L313.49,409.43 L314.41,409.08 L315.33,408.71 L316.25,408.34 L317.16,407.96 L318.07,407.57 L318.97,407.17 L319.87,406.76 L320.76,406.33 L321.65,405.90 L322.53,405.46 L323.41,405.01 L324.29,404.54 L325.16,404.07 L326.02,403.58 L326.88,403.09 L327.74,402.58 L328.59,402.06 L329.43,401.54 L330.27,401.00 L331.11,400.45 L331.94,399.90 L332.76,399.33 L333.58,398.76 L334.40,398.18 L335.21,397.59 L336.02,397.00 L336.82,396.39 L337.61,395.78 L338.40,395.16 L339.19,394.54 L339.97,393.91 L340.75,393.27 L341.52,392.62 L342.28,391.97 L343.04,391.31 L343.80,390.65 L344.55,389.98 L345.29,389.30 L346.03,388.62 L346.77,387.93 L347.50,387.23 L348.22,386.53 L348.94,385.82 L349.66,385.10 L350.37,384.38 L351.07,383.66 L351.77,382.92 L352.46,382.19 L353.15,381.44 L353.83,380.69 L354.51,379.94 L355.18,379.18 L355.84,378.41 L356.50,377.64 L357.16,376.87 L357.81,376.09 L358.46,375.30 L359.09,374.51 L359.73,373.72 L360.36,372.92 L360.98,372.12 L361.60,371.31 L362.21,370.50 L362.81,369.68 L363.42,368.86 L364.01,368.03 L364.60,367.20 L365.18,366.37 L365.76,365.53 L366.34,364.69 L366.90,363.85 L367.46,363.00 L368.02,362.15 L368.57,361.29 L369.12,360.43 L369.66,359.57 L370.19,358.70 L370.72,357.84 L371.24,356.96 L371.75,356.09 L372.26,355.21 L372.77,354.33 L373.27,353.45 L373.76,352.56 L374.25,351.67 L374.73,350.78 L375.21,349.89 L375.68,348.99 L376.15,348.09 L376.61,347.19 L377.07,346.29 L377.52,345.38 L377.97,344.47 L378.42,343.56 L378.85,342.65 L379.29,341.73 L379.72,340.81 L380.15,339.89 L380.57,338.97 L380.98,338.05 L381.40,337.12 L381.81,336.19 L382.21,335.26 L382.62,334.33 L383.01,333.40 L383.41,332.47 L383.80,331.53 L384.19,330.59 L384.57,329.65 L384.95,328.71 L385.33,327.77 L385.70,326.83 L386.08,325.88 L386.44,324.94 L386.81,323.99 L387.17,323.04 L387.53,322.09 L387.89,321.14 L388.25,320.19 L388.60,319.23 L388.95,318.28 L389.30,317.33 L389.65,316.37 L389.99,315.41 L390.33,314.46 L390.67,313.50 L391.01,312.54 L391.35,311.58 L391.68,310.62 L392.02,309.66 L392.35,308.70 L392.68,307.74 L393.01,306.78 L393.33,305.82 L393.66,304.86 L393.99,303.89 L394.31,302.93 L394.64,301.97 L394.96,301.01 L395.28,300.04 L395.60,299.08 L395.92,298.12 L396.24,297.16 L396.56,296.20 L396.88,295.23 L397.20,294.27 L397.52,293.31 L397.84,292.35 L398.15,291.38 L398.47,290.42 L398.78,289.46 L399.10,288.50 L399.41,287.53 L399.73,286.57 L400.04,285.61 L400.36,284.65 L400.67,283.69 L400.98,282.72 L401.30,281.76 L401.61,280.80 L401.92,279.84 L402.24,278.88 L402.55,277.92 L402.86,276.95 L403.17,275.99 L403.49,275.03 L403.80,274.07 L404.11,273.11 L404.42,272.15 L404.74,271.19 L405.05,270.23 L405.36,269.27 L405.67,268.30 L405.99,267.34 L406.30,266.38 L406.61,265.42 L406.93,264.46 L407.24,263.50 L407.56,262.54 L407.87,261.59 L408.19,260.63 L408.50,259.67 L408.82,258.71 L409.14,257.75 L409.45,256.79 L409.77,255.83 L410.09,254.87 L410.41,253.92 L410.73,252.96 L411.05,252.00 L411.37,251.04 L411.69,250.09 L412.01,249.13 L412.34,248.17 L412.66,247.22 L412.98,246.26 L413.31,245.31 L413.64,244.35 L413.96,243.39 L414.29,242.44 L414.62,241.48 L414.95,240.53 L415.28,239.58 L415.61,238.62 L415.95,237.67 L416.28,236.72 L416.62,235.76 L416.95,234.81 L417.29,233.86 L417.63,232.90 L417.97,231.95 L418.31,231.00 L418.65,230.05 L419.00,229.10 L419.34,228.15 L419.69,227.20 L420.04,226.25 L420.39,225.30 L420.74,224.35 L421.09,223.40 L421.45,222.45 L421.80,221.51 L422.16,220.56 L422.52,219.61 L422.88,218.66 L423.24,217.72 L423.61,216.77 L423.97,215.83 L424.34,214.88 L424.71,213.94 L425.08,212.99 L425.45,212.05 L425.83,211.10 L426.20,210.16 L426.58,209.22 L426.96,208.28 L427.34,207.34 L427.73,206.39 L428.12,205.45 L428.50,204.51 L428.90,203.57 L429.29,202.63 L429.68,201.70 L430.08,200.76 L430.48,199.82 L430.89,198.89 L431.29,197.95 L431.70,197.02 L432.12,196.09 L432.53,195.16 L432.95,194.23 L433.37,193.30 L433.80,192.38 L434.23,191.45 L434.66,190.53 L435.09,189.61 L435.53,188.69 L435.98,187.77 L436.43,186.85 L436.88,185.94 L437.33,185.03 L437.79,184.12 L438.26,183.21 L438.73,182.30 L439.20,181.40 L439.68,180.50 L440.16,179.60 L440.65,178.71 L441.14,177.81 L441.64,176.93 L442.14,176.04 L442.65,175.16 L443.16,174.28 L443.68,173.40 L444.20,172.53 L444.74,171.66 L445.27,170.80 L445.82,169.94 L446.37,169.09 L446.92,168.24 L447.49,167.40 L448.06,166.56 L448.64,165.73 L449.22,164.90 L449.81,164.08 L450.41,163.27 L451.02,162.46 L451.64,161.66 L452.26,160.87 L452.89,160.08 L453.54,159.31 L454.18,158.53 L454.84,157.77 L455.51,157.01 L456.18,156.27 L456.86,155.53 L457.55,154.79 L458.25,154.07 L458.96,153.35 L459.67,152.64 L460.40,151.94 L461.13,151.25 L461.86,150.56 L462.61,149.89 L463.36,149.22 L464.12,148.56 L464.88,147.91 L465.66,147.26 L466.44,146.63 L467.22,146.00 L468.02,145.39 L468.82,144.78 L469.62,144.18 L470.43,143.59 L471.25,143.00 L472.08,142.43 L472.91,141.87 L473.75,141.31 L474.59,140.76 L475.44,140.23 L476.29,139.70 L477.15,139.18 L478.02,138.67 L478.89,138.17 L479.76,137.68 L480.65,137.20 L481.53,136.72 L482.42,136.26 L483.32,135.81 L484.22,135.36 L485.12,134.93 L486.03,134.51 L486.95,134.09 L487.87,133.69 L488.79,133.29 L489.71,132.91 L490.65,132.53 L491.58,132.17 L492.52,131.81 L493.46,131.46 L494.41,131.12 L495.36,130.79 L496.31,130.46 L497.26,130.14 L498.22,129.84 L499.19,129.54 L500.15,129.24 L501.12,128.96 L502.09,128.68 L503.07,128.41 L504.04,128.14 L505.02,127.88 L506.00,127.63 L506.99,127.38 L507.97,127.14 L508.96,126.91 L509.95,126.68 L510.94,126.46 L511.94,126.24 L512.93,126.03 L513.93,125.82 L514.93,125.62 L515.93,125.42 L516.94,125.23 L517.94,125.04 L518.94,124.85 L519.95,124.67 L520.96,124.50 L521.96,124.32 L522.97,124.15 L523.98,123.99 L524.99,123.82 L526.00,123.66 L527.01,123.50 L528.02,123.35 L529.03,123.19 L530.05,123.04 L531.06,122.89 L532.07,122.74 L533.08,122.60 L534.09,122.46 L535.10,122.31 L536.11,122.17 L537.13,122.04 L538.14,121.90 L539.15,121.77 L540.16,121.63 L541.17,121.50 L542.18,121.37 L543.19,121.25 L544.21,121.12 L545.22,121.00 L546.23,120.88 L547.24,120.76 L548.25,120.64 L549.26,120.52 L550.27,120.41 L551.29,120.30 L552.30,120.19 L553.31,120.08 L554.32,119.97 L555.33,119.86 L556.34,119.76 L557.35,119.66 L558.36,119.56 L559.38,119.46 L560.39,119.36 L561.40,119.26 L562.41,119.17 L563.42,119.08 L564.43,118.99 L565.44,118.90 L566.45,118.81 L567.47,118.72 L568.48,118.64 L569.49,118.55 L570.50,118.47 L571.51,118.39 L572.52,118.31 L573.53,118.24 L574.54,118.16 L575.56,118.09 L576.57,118.01 L577.58,117.94 L578.59,117.87 L579.60,117.81 L580.61,117.74 L581.62,117.67 L582.63,117.61 L583.65,117.55 L584.66,117.49 L585.67,117.43 L586.68,117.37 L587.69,117.31 L588.70,117.26 L589.71,117.20 L590.72,117.15 L591.74,117.10 L592.75,117.05 L593.76,117.00 L594.77,116.95 L595.78,116.90 L596.79,116.86 L597.80,116.82 L598.81,116.77 L599.83,116.73 L600.84,116.69 L601.85,116.65 L602.86,116.62 L603.87,116.58 L604.88,116.54 L605.89,116.51 L606.90,116.48 L607.92,116.45 L608.93,116.42 L609.94,116.39 L610.95,116.36 L611.96,116.33 L612.97,116.31 L613.98,116.28 L615.00,116.26 L616.01,116.23 L617.02,116.21 L618.03,116.19 L619.04,116.17 L620.05,116.15 L621.06,116.14 L622.07,116.12 L623.09,116.11 L624.10,116.09 L625.11,116.08 L626.12,116.07 L627.13,116.05 L628.14,116.04 L629.15,116.04 L630.17,116.03 L631.18,116.02 L632.19,116.01 L633.20,116.01 L634.21,116.00 L635.22,116.00 L636.23,116.00 L637.25,115.99 L638.26,115.99 L639.27,115.99 L640.28,115.99 L641.29,115.99 L642.30,116.00 L643.31,116.00 L644.33,116.00 L645.34,116.01 L646.35,116.01 L647.36,116.02 L648.37,116.03 L649.38,116.03 L650.40,116.04 L651.41,116.05 L652.42,116.06 L653.43,116.07 L654.44,116.08 L655.45,116.09 L656.47,116.11 L657.48,116.12 L658.49,116.13 L659.50,116.15 L660.51,116.16 L661.52,116.18 L662.54,116.20 L663.55,116.21 L664.56,116.23 L665.57,116.25 L666.58,116.27 L667.59,116.29 L668.61,116.31 L669.62,116.33 L670.63,116.35 L671.64,116.37 L672.65,116.39 L673.66,116.42 L674.68,116.44 L675.69,116.46 L676.70,116.49 L677.71,116.51 L678.72,116.54 L679.74,116.56 L680.75,116.59 L681.76,116.61 L682.77,116.64 L683.78,116.67 L684.80,116.70 L685.81,116.72 L686.82,116.75 L687.83,116.78 L688.84,116.81 L689.86,116.84 L690.87,116.87 L691.88,116.90 L692.89,116.93 L693.90,116.96 L694.92,116.99 L695.93,117.02 L696.94,117.05 L697.95,117.09 L698.97,117.12 L699.98,117.15 L700.99,117.18 L702.00,117.22 L703.01,117.25 L704.03,117.28 L705.04,117.32 L706.05,117.35 L707.06,117.38 L708.08,117.42 L709.09,117.45 L710.10,117.49 L711.11,117.52 L712.13,117.56 L713.14,117.59 L714.15,117.62 L715.16,117.66 L716.18,117.69 L717.19,117.73 L718.20,117.76 L719.21,117.80 L720.23,117.84 L721.24,117.87 L722.25,117.91 L723.26,117.94 L724.28,117.98 L725.29,118.01 L726.30,118.05 L727.31,118.08 L728.33,118.12 L729.34,118.15 L730.35,118.19 L731.37,118.22 L732.38,118.26 L733.39,118.29 L734.40,118.33 L735.42,118.36 L736.43,118.40 L737.44,118.43 L738.46,118.46 L739.47,118.50 L740.48,118.53 L741.49,118.57 L742.51,118.60 L743.52,118.63 L744.53,118.67 L745.55,118.70 L746.56,118.73 L747.57,118.77 L748.59,118.80 L749.60,118.83 L750.61,118.86 L751.63,118.89 L752.64,118.92 L753.65,118.96 L754.67,118.99 L755.68,119.02 L756.69,119.05 L757.71,119.08 L758.72,119.11 L759.73,119.13 L760.75,119.16 L761.76,119.19 L762.77,119.22 L763.79,119.25 L764.80,119.27 L765.81,119.30 L766.83,119.33 L767.84,119.35 L768.85,119.38 L769.87,119.40 L770.88,119.43 L771.90,119.45 L772.91,119.48 L773.92,119.50 L774.94,119.52 L775.95,119.54 L776.97,119.56 L777.98,119.59 L778.99,119.61 L780.01,119.63 L781.02,119.64 L782.04,119.66 L783.05,119.68 L784.06,119.70 L785.08,119.72 L786.09,119.73 L787.11,119.75 L788.12,119.76 L789.13,119.78 L790.15,119.79 L791.16,119.80 L792.18,119.82 L793.19,119.83 L794.21,119.84 L795.22,119.85 L796.23,119.86 L797.25,119.87 L798.26,119.88 L799.28,119.88 L800.29,119.89 L801.31,119.90 L802.32,119.90 L803.34,119.91 L804.35,119.91 L805.37,119.91 L806.38,119.91 L807.40,119.92 L808.41,119.92 L809.43,119.92 L810.44,119.91 L811.46,119.91 L812.47,119.91 L813.49,119.90 L814.50,119.90 L815.50,119.90" stroke="#ff0000" stroke-width="2.15" stroke-dasharray="6.707 2.803 3.103 2.803" stroke-dashoffset="9.41"/>
<path d="M69.30,429.25 L70.50,429.25 L71.58,429.23 L72.66,429.22 L73.74,429.21 L74.82,429.19 L75.90,429.17 L76.98,429.16 L78.06,429.14 L79.14,429.13 L80.22,429.11 L81.30,429.10 L82.38,429.08 L83.46,429.07 L84.54,429.05 L85.62,429.03 L86.70,429.02 L87.78,429.00 L88.86,428.98 L89.94,428.97 L91.02,428.95 L92.10,428.93 L93.18,428.92 L94.26,428.90 L95.34,428.88 L96.42,428.86 L97.50,428.84 L98.58,428.83 L99.66,428.81 L100.75,428.79 L101.83,428.77 L102.91,428.75 L103.99,428.73 L105.07,428.71 L106.15,428.69 L107.23,428.67 L108.31,428.65 L109.39,428.63 L110.47,428.61 L111.55,428.59 L112.64,428.57 L113.72,428.55 L114.80,428.53 L115.88,428.51 L116.96,428.48 L118.04,428.46 L119.12,428.44 L120.20,428.42 L121.28,428.39 L122.36,428.37 L123.45,428.35 L124.53,428.32 L125.61,428.30 L126.69,428.27 L127.77,428.25 L128.85,428.22 L129.93,428.20 L131.01,428.17 L132.09,428.14 L133.17,428.12 L134.26,428.09 L135.34,428.06 L136.42,428.04 L137.50,428.01 L138.58,427.98 L139.66,427.95 L140.74,427.92 L141.82,427.89 L142.90,427.86 L143.98,427.83 L145.06,427.80 L146.14,427.77 L147.23,427.74 L148.31,427.71 L149.39,427.68 L150.47,427.64 L151.55,427.61 L152.63,427.58 L153.71,427.55 L154.79,427.51 L155.87,427.48 L156.95,427.44 L158.03,427.41 L159.11,427.37 L160.19,427.33 L161.27,427.30 L162.35,427.26 L163.43,427.22 L164.51,427.18 L165.59,427.15 L166.67,427.11 L167.75,427.07 L168.83,427.03 L169.91,426.99 L170.99,426.95 L172.07,426.91 L173.15,426.86 L174.23,426.82 L175.31,426.78 L176.39,426.73 L177.47,426.69 L178.55,426.65 L179.63,426.60 L180.71,426.56 L181.79,426.51 L182.86,426.46 L183.94,426.42 L185.02,426.37 L186.10,426.32 L187.18,426.27 L188.26,426.22 L189.34,426.17 L190.42,426.12 L191.49,426.07 L192.57,426.02 L193.65,425.97 L194.73,425.92 L195.81,425.86 L196.89,425.81 L197.96,425.75 L199.04,425.70 L200.12,425.64 L201.20,425.59 L202.27,425.53 L203.35,425.47 L204.43,425.41 L205.51,425.36 L206.58,425.30 L207.66,425.24 L208.74,425.18 L209.81,425.11 L210.89,425.05 L211.97,424.99 L213.04,424.93 L214.12,424.86 L215.20,424.80 L216.27,424.73 L217.35,424.67 L218.42,424.60 L219.50,424.53 L220.58,424.47 L221.65,424.40 L222.73,424.33 L223.80,424.26 L224.88,424.19 L225.95,424.12 L227.03,424.04 L228.10,423.97 L229.18,423.89 L230.25,423.82 L231.33,423.74 L232.40,423.66 L233.48,423.58 L234.55,423.50 L235.63,423.42 L236.70,423.34 L237.77,423.25 L238.85,423.17 L239.92,423.08 L241.00,422.99 L242.07,422.90 L243.15,422.80 L244.22,422.71 L245.30,422.61 L246.37,422.51 L247.44,422.41 L248.52,422.31 L249.59,422.20 L250.67,422.10 L251.74,421.99 L252.82,421.88 L253.89,421.76 L254.97,421.64 L256.04,421.53 L257.12,421.40 L258.19,421.28 L259.27,421.15 L260.34,421.02 L261.42,420.89 L262.49,420.76 L263.57,420.62 L264.65,420.48 L265.72,420.33 L266.80,420.19 L267.88,420.03 L268.95,419.88 L270.03,419.73 L271.11,419.57 L272.18,419.40 L273.26,419.24 L274.34,419.07 L275.42,418.89 L276.49,418.71 L277.57,418.53 L278.65,418.35 L279.73,418.16 L280.81,417.97 L281.89,417.77 L282.97,417.57 L284.04,417.37 L285.12,417.16 L286.20,416.95 L287.28,416.73 L288.35,416.51 L289.43,416.28 L290.50,416.05 L291.58,415.81 L292.65,415.57 L293.72,415.32 L294.79,415.06 L295.85,414.80 L296.92,414.53 L297.98,414.26 L299.04,413.98 L300.09,413.70 L301.15,413.40 L302.20,413.10 L303.25,412.80 L304.29,412.48 L305.33,412.16 L306.37,411.83 L307.40,411.50 L308.43,411.16 L309.46,410.80 L310.48,410.44 L311.50,410.08 L312.51,409.70 L313.52,409.32 L314.52,408.92 L315.52,408.52 L316.51,408.11 L317.50,407.69 L318.48,407.26 L319.46,406.82 L320.43,406.38 L321.39,405.92 L322.35,405.45 L323.30,404.97 L324.25,404.49 L325.19,403.99 L326.12,403.48 L327.05,402.96 L327.96,402.43 L328.88,401.89 L329.78,401.34 L330.67,400.78 L331.56,400.20 L332.44,399.62 L333.32,399.02 L334.18,398.41 L335.04,397.79 L335.89,397.17 L336.73,396.53 L337.57,395.88 L338.39,395.22 L339.21,394.55 L340.03,393.87 L340.83,393.18 L341.63,392.49 L342.42,391.78 L343.20,391.06 L343.98,390.34 L344.75,389.60 L345.51,388.86 L346.27,388.11 L347.02,387.35 L347.76,386.58 L348.49,385.81 L349.22,385.02 L349.94,384.23 L350.65,383.43 L351.36,382.63 L352.06,381.81 L352.75,380.99 L353.44,380.16 L354.12,379.33 L354.79,378.48 L355.46,377.64 L356.12,376.78 L356.77,375.92 L357.42,375.05 L358.06,374.18 L358.70,373.30 L359.32,372.41 L359.94,371.52 L360.56,370.63 L361.17,369.72 L361.77,368.82 L362.37,367.91 L362.96,366.99 L363.54,366.07 L364.12,365.14 L364.69,364.21 L365.25,363.28 L365.81,362.34 L366.37,361.40 L366.92,360.45 L367.46,359.51 L367.99,358.55 L368.52,357.60 L369.05,356.64 L369.56,355.68 L370.08,354.71 L370.58,353.74 L371.09,352.77 L371.58,351.80 L372.07,350.83 L372.56,349.85 L373.03,348.87 L373.51,347.89 L373.98,346.91 L374.44,345.92 L374.90,344.94 L375.35,343.95 L375.79,342.96 L376.24,341.97 L376.67,340.98 L377.11,339.98 L377.53,338.99 L377.96,337.99 L378.38,336.99 L378.79,335.99 L379.20,334.99 L379.60,333.99 L380.00,332.98 L380.40,331.98 L380.79,330.97 L381.18,329.96 L381.57,328.95 L381.95,327.94 L382.33,326.93 L382.70,325.92 L383.07,324.90 L383.43,323.89 L383.80,322.87 L384.16,321.85 L384.51,320.83 L384.87,319.81 L385.22,318.79 L385.56,317.77 L385.91,316.75 L386.25,315.72 L386.59,314.70 L386.92,313.67 L387.26,312.65 L387.59,311.62 L387.91,310.59 L388.24,309.56 L388.56,308.54 L388.89,307.51 L389.20,306.47 L389.52,305.44 L389.84,304.41 L390.15,303.38 L390.46,302.35 L390.77,301.31 L391.08,300.28 L391.39,299.25 L391.69,298.21 L392.00,297.18 L392.30,296.14 L392.60,295.10 L392.90,294.07 L393.20,293.03 L393.50,291.99 L393.80,290.96 L394.09,289.92 L394.39,288.88 L394.68,287.85 L394.98,286.81 L395.27,285.77 L395.57,284.73 L395.86,283.69 L396.15,282.66 L396.45,281.62 L396.74,280.58 L397.03,279.54 L397.32,278.50 L397.61,277.46 L397.90,276.43 L398.19,275.39 L398.48,274.35 L398.77,273.31 L399.06,272.27 L399.35,271.23 L399.64,270.19 L399.92,269.15 L400.21,268.11 L400.50,267.07 L400.78,266.03 L401.07,264.99 L401.35,263.95 L401.64,262.91 L401.92,261.87 L402.21,260.83 L402.49,259.79 L402.77,258.75 L403.06,257.71 L403.34,256.67 L403.62,255.63 L403.90,254.59 L404.19,253.55 L404.47,252.50 L404.75,251.46 L405.03,250.42 L405.31,249.38 L405.59,248.34 L405.87,247.30 L406.15,246.25 L406.43,245.21 L406.71,244.17 L406.98,243.13 L407.26,242.08 L407.54,241.04 L407.82,240.00 L408.10,238.96 L408.37,237.91 L408.65,236.87 L408.93,235.83 L409.20,234.78 L409.48,233.74 L409.75,232.69 L410.03,231.65 L410.30,230.61 L410.58,229.56 L410.85,228.52 L411.13,227.47 L411.40,226.43 L411.68,225.38 L411.95,224.34 L412.22,223.29 L412.50,222.25 L412.77,221.20 L413.04,220.16 L413.32,219.11 L413.59,218.07 L413.86,217.02 L414.13,215.97 L414.41,214.93 L414.68,213.88 L414.95,212.84 L415.22,211.79 L415.49,210.74 L415.76,209.69 L416.03,208.65 L416.31,207.60 L416.58,206.55 L416.85,205.51 L417.12,204.46 L417.39,203.41 L417.66,202.36 L417.93,201.31 L418.20,200.27 L418.47,199.22 L418.74,198.17 L419.01,197.12 L419.28,196.07 L419.55,195.02 L419.82,193.97 L420.09,192.92 L420.36,191.88 L420.63,190.83 L420.90,189.78 L421.17,188.73 L421.45,187.68 L421.72,186.63 L421.99,185.58 L422.27,184.54 L422.54,183.49 L422.82,182.44 L423.10,181.39 L423.38,180.35 L423.66,179.30 L423.94,178.25 L424.22,177.21 L424.50,176.16 L424.79,175.12 L425.07,174.07 L425.36,173.03 L425.65,171.98 L425.94,170.94 L426.23,169.90 L426.52,168.86 L426.82,167.81 L427.12,166.77 L427.41,165.73 L427.72,164.69 L428.02,163.65 L428.32,162.62 L428.63,161.58 L428.94,160.54 L429.25,159.51 L429.57,158.47 L429.88,157.44 L430.20,156.40 L430.52,155.37 L430.85,154.34 L431.17,153.31 L431.50,152.28 L431.83,151.25 L432.17,150.23 L432.51,149.20 L432.85,148.17 L433.19,147.15 L433.54,146.13 L433.89,145.11 L434.24,144.08 L434.60,143.07 L434.96,142.05 L435.32,141.03 L435.69,140.01 L436.06,139.00 L436.43,137.99 L436.81,136.98 L437.19,135.96 L437.57,134.96 L437.96,133.95 L438.35,132.94 L438.75,131.94 L439.15,130.94 L439.55,129.93 L439.96,128.93 L440.37,127.94 L440.79,126.94 L441.21,125.94 L441.64,124.95 L442.07,123.96 L442.50,122.97 L442.94,121.98 L443.39,120.99 L443.83,120.01 L444.29,119.03 L444.75,118.05 L445.21,117.07 L445.68,116.09 L446.15,115.11 L446.63,114.14 L447.11,113.17 L447.60,112.20 L448.09,111.23 L448.59,110.27 L449.10,109.30 L449.61,108.34 L450.12,107.38 L450.64,106.43 L451.17,105.47 L451.70,104.52 L452.24,103.58 L452.79,102.63 L453.34,101.69 L453.90,100.76 L454.46,99.83 L455.04,98.90 L455.61,97.98 L456.20,97.06 L456.79,96.15 L457.39,95.24 L458.00,94.34 L458.62,93.45 L459.24,92.56 L459.87,91.68 L460.51,90.80 L461.16,89.93 L461.82,89.07 L462.48,88.22 L463.16,87.37 L463.84,86.54 L464.53,85.71 L465.23,84.88 L465.94,84.07 L466.66,83.27 L467.39,82.47 L468.13,81.69 L468.87,80.91 L469.63,80.15 L470.40,79.39 L471.17,78.65 L471.96,77.91 L472.75,77.18 L473.55,76.47 L474.36,75.76 L475.18,75.07 L476.01,74.38 L476.84,73.71 L477.69,73.04 L478.54,72.39 L479.40,71.75 L480.26,71.12 L481.13,70.50 L482.02,69.89 L482.90,69.30 L483.80,68.71 L484.70,68.14 L485.61,67.58 L486.52,67.03 L487.44,66.49 L488.37,65.97 L489.31,65.45 L490.25,64.95 L491.19,64.46 L492.14,63.99 L493.10,63.52 L494.06,63.07 L495.03,62.64 L496.00,62.21 L496.98,61.80 L497.96,61.40 L498.95,61.01 L499.94,60.63 L500.94,60.27 L501.94,59.91 L502.94,59.57 L503.95,59.24 L504.97,58.92 L505.99,58.61 L507.01,58.31 L508.04,58.02 L509.07,57.74 L510.10,57.47 L511.14,57.21 L512.18,56.96 L513.22,56.71 L514.27,56.48 L515.32,56.25 L516.37,56.04 L517.43,55.83 L518.49,55.63 L519.55,55.43 L520.61,55.25 L521.68,55.07 L522.75,54.90 L523.82,54.73 L524.89,54.57 L525.97,54.42 L527.05,54.28 L528.12,54.14 L529.21,54.00 L530.29,53.87 L531.37,53.75 L532.46,53.63 L533.54,53.52 L534.63,53.41 L535.72,53.30 L536.81,53.20 L537.90,53.11 L538.99,53.02 L540.09,52.93 L541.18,52.84 L542.27,52.76 L543.36,52.68 L544.46,52.60 L545.55,52.53 L546.65,52.46 L547.74,52.38 L548.83,52.32 L549.93,52.25 L551.02,52.18 L552.11,52.12 L553.20,52.06 L554.30,52.00 L555.39,51.94 L556.48,51.88 L557.57,51.83 L558.66,51.78 L559.75,51.72 L560.84,51.67 L561.93,51.62 L563.02,51.58 L564.11,51.53 L565.20,51.49 L566.29,51.44 L567.38,51.40 L568.47,51.36 L569.56,51.33 L570.65,51.29 L571.73,51.25 L572.82,51.22 L573.91,51.19 L575.00,51.16 L576.08,51.13 L577.17,51.10 L578.26,51.08 L579.34,51.05 L580.43,51.03 L581.52,51.01 L582.60,50.98 L583.69,50.97 L584.77,50.95 L585.86,50.93 L586.94,50.92 L588.03,50.90 L589.11,50.89 L590.20,50.88 L591.28,50.87 L592.37,50.86 L593.45,50.85 L594.53,50.85 L595.62,50.84 L596.70,50.84 L597.78,50.84 L598.87,50.84 L599.95,50.84 L601.03,50.84 L602.11,50.84 L603.20,50.84 L604.28,50.85 L605.36,50.86 L606.44,50.86 L607.52,50.87 L608.60,50.88 L609.69,50.89 L610.77,50.90 L611.85,50.92 L612.93,50.93 L614.01,50.95 L615.09,50.96 L616.17,50.98 L617.25,51.00 L618.33,51.02 L619.41,51.04 L620.49,51.06 L621.57,51.08 L622.65,51.11 L623.73,51.13 L624.81,51.16 L625.88,51.19 L626.96,51.21 L628.04,51.24 L629.12,51.27 L630.20,51.30 L631.28,51.33 L632.36,51.37 L633.43,51.40 L634.51,51.43 L635.59,51.47 L636.67,51.51 L637.75,51.54 L638.82,51.58 L639.90,51.62 L640.98,51.66 L642.06,51.70 L643.13,51.74 L644.21,51.78 L645.29,51.83 L646.36,51.87 L647.44,51.91 L648.52,51.96 L649.59,52.00 L650.67,52.05 L651.75,52.10 L652.82,52.15 L653.90,52.20 L654.98,52.25 L656.05,52.30 L657.13,52.35 L658.20,52.40 L659.28,52.45 L660.35,52.50 L661.43,52.56 L662.51,52.61 L663.58,52.67 L664.66,52.72 L665.73,52.78 L666.81,52.84 L667.88,52.89 L668.96,52.95 L670.03,53.01 L671.11,53.07 L672.19,53.13 L673.26,53.19 L674.34,53.25 L675.41,53.31 L676.49,53.37 L677.56,53.44 L678.64,53.50 L679.71,53.56 L680.79,53.63 L681.86,53.69 L682.94,53.75 L684.01,53.82 L685.08,53.88 L686.16,53.95 L687.23,54.02 L688.31,54.08 L689.38,54.15 L690.46,54.22 L691.53,54.29 L692.61,54.35 L693.68,54.42 L694.76,54.49 L695.83,54.56 L696.91,54.63 L697.98,54.70 L699.06,54.77 L700.13,54.84 L701.21,54.91 L702.28,54.98 L703.36,55.06 L704.43,55.13 L705.50,55.20 L706.58,55.27 L707.65,55.34 L708.73,55.42 L709.80,55.49 L710.88,55.56 L711.95,55.63 L713.03,55.71 L714.10,55.78 L715.18,55.85 L716.25,55.93 L717.33,56.00 L718.40,56.08 L719.48,56.15 L720.55,56.22 L721.63,56.30 L722.71,56.37 L723.78,56.45 L724.86,56.52 L725.93,56.60 L727.01,56.67 L728.08,56.74 L729.16,56.82 L730.23,56.89 L731.31,56.97 L732.39,57.04 L733.46,57.12 L734.54,57.19 L735.61,57.27 L736.69,57.34 L737.77,57.42 L738.84,57.49 L739.92,57.56 L741.00,57.64 L742.07,57.71 L743.15,57.79 L744.23,57.86 L745.30,57.93 L746.38,58.01 L747.46,58.08 L748.53,58.15 L749.61,58.23 L750.69,58.30 L751.77,58.37 L752.84,58.44 L753.92,58.52 L755.00,58.59 L756.08,58.66 L757.15,58.73 L758.23,58.80 L759.31,58.87 L760.39,58.94 L761.47,59.01 L762.55,59.08 L763.62,59.15 L764.70,59.22 L765.78,59.29 L766.86,59.36 L767.94,59.43 L769.02,59.50 L770.10,59.56 L771.18,59.63 L772.26,59.70 L773.34,59.77 L774.42,59.83 L775.50,59.90 L776.58,59.96 L777.66,60.03 L778.74,60.09 L779.82,60.16 L780.90,60.22 L781.98,60.28 L783.06,60.34 L784.15,60.41 L785.23,60.47 L786.31,60.53 L787.39,60.59 L788.47,60.65 L789.56,60.71 L790.64,60.77 L791.72,60.83 L792.80,60.88 L793.89,60.94 L794.97,61.00 L796.05,61.05 L797.14,61.11 L798.22,61.16 L799.30,61.22 L800.39,61.27 L801.47,61.32 L802.56,61.37 L803.64,61.43 L804.73,61.48 L805.81,61.53 L806.90,61.58 L807.98,61.62 L809.07,61.67 L810.15,61.72 L811.24,61.77 L812.33,61.81 L813.41,61.86 L814.50,61.90 L815.50,61.90" stroke="#0000ff" stroke-width="2.35" stroke-dasharray="6.820 2.778" stroke-dashoffset="0"/>
</g>
<g stroke="#444444" stroke-width="1.15" fill="none">
<line x1="70.50" y1="479.40" x2="70.50" y2="476.90"/><line x1="70.50" y1="0.50" x2="70.50" y2="3.00"/><line x1="101.50" y1="479.40" x2="101.50" y2="476.90"/><line x1="101.50" y1="0.50" x2="101.50" y2="3.00"/><line x1="132.50" y1="479.40" x2="132.50" y2="474.90"/><line x1="132.50" y1="0.50" x2="132.50" y2="5.00"/><line x1="163.50" y1="479.40" x2="163.50" y2="476.90"/><line x1="163.50" y1="0.50" x2="163.50" y2="3.00"/><line x1="194.50" y1="479.40" x2="194.50" y2="476.90"/><line x1="194.50" y1="0.50" x2="194.50" y2="3.00"/><line x1="225.50" y1="479.40" x2="225.50" y2="476.90"/><line x1="225.50" y1="0.50" x2="225.50" y2="3.00"/><line x1="256.50" y1="479.40" x2="256.50" y2="474.90"/><line x1="256.50" y1="0.50" x2="256.50" y2="5.00"/><line x1="287.50" y1="479.40" x2="287.50" y2="476.90"/><line x1="287.50" y1="0.50" x2="287.50" y2="3.00"/><line x1="318.50" y1="479.40" x2="318.50" y2="476.90"/><line x1="318.50" y1="0.50" x2="318.50" y2="3.00"/><line x1="349.50" y1="479.40" x2="349.50" y2="476.90"/><line x1="349.50" y1="0.50" x2="349.50" y2="3.00"/><line x1="380.50" y1="479.40" x2="380.50" y2="474.90"/><line x1="380.50" y1="0.50" x2="380.50" y2="5.00"/><line x1="411.50" y1="479.40" x2="411.50" y2="476.90"/><line x1="411.50" y1="0.50" x2="411.50" y2="3.00"/><line x1="442.50" y1="479.40" x2="442.50" y2="476.90"/><line x1="442.50" y1="0.50" x2="442.50" y2="3.00"/><line x1="473.50" y1="479.40" x2="473.50" y2="476.90"/><line x1="473.50" y1="0.50" x2="473.50" y2="3.00"/><line x1="504.50" y1="479.40" x2="504.50" y2="474.90"/><line x1="504.50" y1="0.50" x2="504.50" y2="5.00"/><line x1="535.50" y1="479.40" x2="535.50" y2="476.90"/><line x1="535.50" y1="0.50" x2="535.50" y2="3.00"/><line x1="566.50" y1="479.40" x2="566.50" y2="476.90"/><line x1="566.50" y1="0.50" x2="566.50" y2="3.00"/><line x1="597.50" y1="479.40" x2="597.50" y2="476.90"/><line x1="597.50" y1="0.50" x2="597.50" y2="3.00"/><line x1="628.50" y1="479.40" x2="628.50" y2="474.90"/><line x1="628.50" y1="0.50" x2="628.50" y2="5.00"/><line x1="659.50" y1="479.40" x2="659.50" y2="476.90"/><line x1="659.50" y1="0.50" x2="659.50" y2="3.00"/><line x1="690.50" y1="479.40" x2="690.50" y2="476.90"/><line x1="690.50" y1="0.50" x2="690.50" y2="3.00"/><line x1="721.50" y1="479.40" x2="721.50" y2="476.90"/><line x1="721.50" y1="0.50" x2="721.50" y2="3.00"/><line x1="752.50" y1="479.40" x2="752.50" y2="474.90"/><line x1="752.50" y1="0.50" x2="752.50" y2="5.00"/><line x1="783.50" y1="479.40" x2="783.50" y2="476.90"/><line x1="783.50" y1="0.50" x2="783.50" y2="3.00"/><line x1="814.50" y1="479.40" x2="814.50" y2="476.90"/><line x1="814.50" y1="0.50" x2="814.50" y2="3.00"/><line x1="54.50" y1="478.04" x2="57.70" y2="478.04"/><line x1="829.80" y1="478.04" x2="826.60" y2="478.04"/><line x1="54.50" y1="461.82" x2="57.70" y2="461.82"/><line x1="829.80" y1="461.82" x2="826.60" y2="461.82"/><line x1="54.50" y1="445.61" x2="57.70" y2="445.61"/><line x1="829.80" y1="445.61" x2="826.60" y2="445.61"/><line x1="54.50" y1="429.40" x2="59.60" y2="429.40"/><line x1="829.80" y1="429.40" x2="824.70" y2="429.40"/><line x1="54.50" y1="413.19" x2="57.70" y2="413.19"/><line x1="829.80" y1="413.19" x2="826.60" y2="413.19"/><line x1="54.50" y1="396.98" x2="57.70" y2="396.98"/><line x1="829.80" y1="396.98" x2="826.60" y2="396.98"/><line x1="54.50" y1="380.76" x2="57.70" y2="380.76"/><line x1="829.80" y1="380.76" x2="826.60" y2="380.76"/><line x1="54.50" y1="364.55" x2="57.70" y2="364.55"/><line x1="829.80" y1="364.55" x2="826.60" y2="364.55"/><line x1="54.50" y1="348.34" x2="59.60" y2="348.34"/><line x1="829.80" y1="348.34" x2="824.70" y2="348.34"/><line x1="54.50" y1="332.13" x2="57.70" y2="332.13"/><line x1="829.80" y1="332.13" x2="826.60" y2="332.13"/><line x1="54.50" y1="315.92" x2="57.70" y2="315.92"/><line x1="829.80" y1="315.92" x2="826.60" y2="315.92"/><line x1="54.50" y1="299.70" x2="57.70" y2="299.70"/><line x1="829.80" y1="299.70" x2="826.60" y2="299.70"/><line x1="54.50" y1="283.49" x2="57.70" y2="283.49"/><line x1="829.80" y1="283.49" x2="826.60" y2="283.49"/><line x1="54.50" y1="267.28" x2="59.60" y2="267.28"/><line x1="829.80" y1="267.28" x2="824.70" y2="267.28"/><line x1="54.50" y1="251.07" x2="57.70" y2="251.07"/><line x1="829.80" y1="251.07" x2="826.60" y2="251.07"/><line x1="54.50" y1="234.86" x2="57.70" y2="234.86"/><line x1="829.80" y1="234.86" x2="826.60" y2="234.86"/><line x1="54.50" y1="218.64" x2="57.70" y2="218.64"/><line x1="829.80" y1="218.64" x2="826.60" y2="218.64"/><line x1="54.50" y1="202.43" x2="57.70" y2="202.43"/><line x1="829.80" y1="202.43" x2="826.60" y2="202.43"/><line x1="54.50" y1="186.22" x2="59.60" y2="186.22"/><line x1="829.80" y1="186.22" x2="824.70" y2="186.22"/><line x1="54.50" y1="170.01" x2="57.70" y2="170.01"/><line x1="829.80" y1="170.01" x2="826.60" y2="170.01"/><line x1="54.50" y1="153.80" x2="57.70" y2="153.80"/><line x1="829.80" y1="153.80" x2="826.60" y2="153.80"/><line x1="54.50" y1="137.58" x2="57.70" y2="137.58"/><line x1="829.80" y1="137.58" x2="826.60" y2="137.58"/><line x1="54.50" y1="121.37" x2="57.70" y2="121.37"/><line x1="829.80" y1="121.37" x2="826.60" y2="121.37"/><line x1="54.50" y1="105.16" x2="59.60" y2="105.16"/><line x1="829.80" y1="105.16" x2="824.70" y2="105.16"/><line x1="54.50" y1="88.95" x2="57.70" y2="88.95"/><line x1="829.80" y1="88.95" x2="826.60" y2="88.95"/><line x1="54.50" y1="72.74" x2="57.70" y2="72.74"/><line x1="829.80" y1="72.74" x2="826.60" y2="72.74"/><line x1="54.50" y1="56.52" x2="57.70" y2="56.52"/><line x1="829.80" y1="56.52" x2="826.60" y2="56.52"/><line x1="54.50" y1="40.31" x2="57.70" y2="40.31"/><line x1="829.80" y1="40.31" x2="826.60" y2="40.31"/><line x1="54.50" y1="24.10" x2="59.60" y2="24.10"/><line x1="829.80" y1="24.10" x2="824.70" y2="24.10"/><line x1="54.50" y1="7.89" x2="57.70" y2="7.89"/><line x1="829.80" y1="7.89" x2="826.60" y2="7.89"/>
</g>
<rect x="54.5" y="0.09999999999999998" width="775.3" height="479.29999999999995" fill="none" stroke="#505050" stroke-width="1.2"/>
<g font-size="24" fill="#000" stroke="#000" stroke-width="0.22" stroke-linejoin="round">
<rect x="119.22" y="499.5" width="11.2" height="2.0" fill="#000"/><text x="132.84" y="507">4</text><rect x="243.22" y="499.5" width="11.2" height="2.0" fill="#000"/><text x="256.84" y="507">2</text><text x="380.50" y="507" text-anchor="middle">0</text><text x="504.50" y="507" text-anchor="middle">2</text><text x="628.50" y="507" text-anchor="middle">4</text><text x="752.50" y="507" text-anchor="middle">6</text>
<text x="51.2" y="438" text-anchor="end">0</text><path d="M0.3726,0H0.2847V0.5601Q0.2529,0.5298 0.2014,0.4995Q0.1499,0.4692 0.1089,0.4541V0.5391Q0.1826,0.5737 0.2378,0.623Q0.293,0.6724 0.3159,0.7188H0.3726Z" transform="translate(37.85,357) scale(24,-24)" fill="#000" stroke-width="0.0092"/><text x="51.2" y="276" text-anchor="end">2</text><text x="51.2" y="195" text-anchor="end">3</text><text x="51.2" y="114" text-anchor="end">4</text><text x="51.2" y="33" text-anchor="end">5</text>
<text x="443.5" y="545" text-anchor="middle" font-style="italic">z</text>
</g>
<g transform="translate(584.9,36)" fill="#0000ff" font-size="19.2"><path d="M0.7,-12.2 C1.5,-13.35 3.6,-13.35 4.8,-12.3 M4.15,-12.6 C4.0,-9 3.5,-5.5 3.1,-2.7 C3.0,-1.9 2.9,-1.6 2.7,-1.4 L4.5,0.1" transform="translate(0,0)" fill="none" stroke="#0000ff" stroke-width="1.5" stroke-linecap="round" stroke-linejoin="round"/><text transform="translate(5.85,0) scale(0.85,1)">m</text><text x="19.81" y="0">(</text><text transform="translate(27.51,0) scale(1,1.045)" font-style="italic">H</text><text x="42.54" y="-9" font-size="13.6">(6)</text><text x="41.23" y="5" font-size="13.6" font-style="italic">T</text><text x="58.26" y="0">(</text><text x="65.24" y="0">z</text><text x="75.6" y="0">)</text><text x="81.25" y="0">)</text></g><g transform="translate(501.3,154)" fill="#ff0000" font-size="19.2"><path d="M0.7,-12.2 C1.5,-13.35 3.6,-13.35 4.8,-12.3 M4.15,-12.6 C4.0,-9 3.5,-5.5 3.1,-2.7 C3.0,-1.9 2.9,-1.6 2.7,-1.4 L4.5,0.1" transform="translate(0,0)" fill="none" stroke="#ff0000" stroke-width="1.5" stroke-linecap="round" stroke-linejoin="round"/><text transform="translate(5.85,0) scale(0.85,1)">m</text><text x="19.81" y="0">(</text><text transform="translate(27.51,0) scale(1,1.045)" font-style="italic">H</text><text x="42.54" y="-10" font-size="13.6">(3)</text><text x="41.23" y="5" font-size="13.6" font-style="italic">T</text><text x="58.26" y="0">(</text><text x="65.24" y="0">z</text><text x="75.6" y="0">)</text><text x="81.25" y="0">)</text></g><g transform="translate(417.6,328)" fill="#ff00ff" font-size="19.2"><path d="M0.7,-12.2 C1.5,-13.35 3.6,-13.35 4.8,-12.3 M4.15,-12.6 C4.0,-9 3.5,-5.5 3.1,-2.7 C3.0,-1.9 2.9,-1.6 2.7,-1.4 L4.5,0.1" transform="translate(0,0)" fill="none" stroke="#ff00ff" stroke-width="1.5" stroke-linecap="round" stroke-linejoin="round"/><text transform="translate(5.85,0) scale(0.85,1)">m</text><text x="19.81" y="0">(</text><text transform="translate(27.51,0) scale(1,1.045)" font-style="italic">H</text><text x="42.54" y="-10" font-size="13.6">(</text><path d="M0.3726,0H0.2847V0.5601Q0.2529,0.5298 0.2014,0.4995Q0.1499,0.4692 0.1089,0.4541V0.5391Q0.1826,0.5737 0.2378,0.623Q0.293,0.6724 0.3159,0.7188H0.3726Z" transform="translate(47.07,-10) scale(13.6,-13.6)" fill="#ff00ff" stroke-width="0.0162"/><text x="54.63" y="-10" font-size="13.6">)</text><text x="41.23" y="5" font-size="13.6" font-style="italic">T</text><text x="58.26" y="0">(</text><text x="65.24" y="0">z</text><text x="75.6" y="0">)</text><text x="81.25" y="0">)</text></g>
<g transform="translate(23.5,289.5) rotate(-90)" fill="#000" font-size="24" stroke="#000" stroke-width="0.22"><path d="M1.1,-15.2 C2.2,-17.0 5.4,-17.0 6.5,-15.1 M4.6,-16.2 L4.6,-3.7 C4.5,-2.4 4.0,-1.6 3.4,-1.3 L6.2,0.3" fill="none" stroke="#000" stroke-width="1.55" stroke-linecap="round" stroke-linejoin="round"/><text transform="translate(7.9,0) scale(0.85,1)">m</text><text x="25.88" y="0">(</text><text transform="translate(35.95,0) scale(1,1.045)" font-style="italic">H</text><text x="52.54" y="5.2" font-size="17" font-style="italic">T</text><text x="64.88" y="0">(</text><text x="72.87" y="0">z</text><text x="85.48" y="0">)</text><text x="93.33" y="0">)</text></g>
</svg>
</body></html>
